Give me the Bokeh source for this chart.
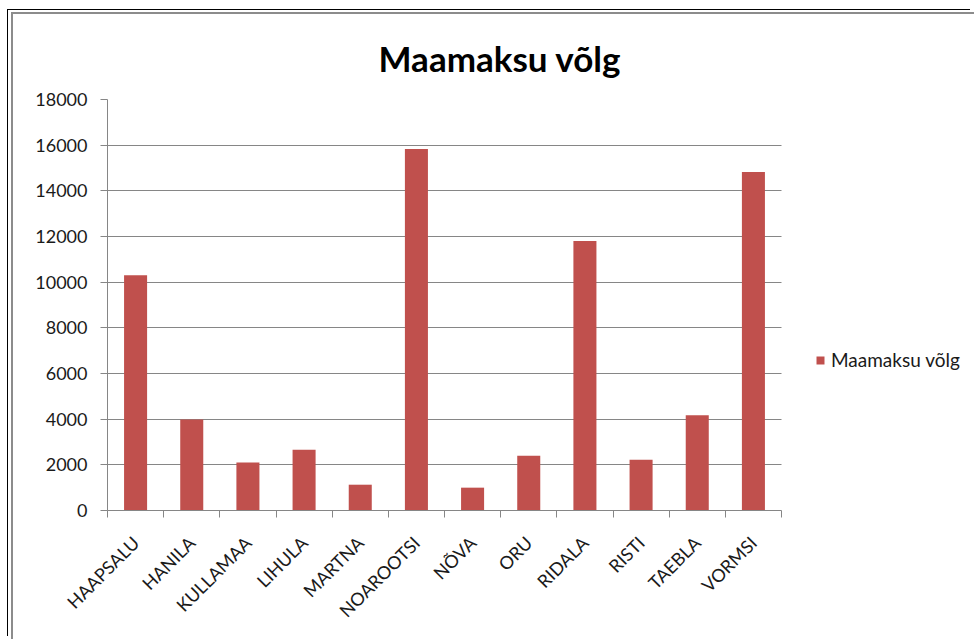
import math
from bokeh.plotting import figure
from bokeh.models import Range1d, FixedTicker, Legend, LegendItem, ColumnDataSource
from bokeh.embed import file_html
from bokeh.resources import INLINE

# ---- data ----
categories = ["HAAPSALU", "HANILA", "KULLAMAA", "LIHULA", "MARTNA", "NOAROOTSI",
              "NÕVA", "ORU", "RIDALA", "RISTI", "TAEBLA", "VORMSI"]
values = [10300, 3990, 2100, 2660, 1130, 15830, 1000, 2400, 11800, 2220, 4170, 14830]
y_ticks = [0, 2000, 4000, 6000, 8000, 10000, 12000, 14000, 16000, 18000]
series_name = "Maamaksu võlg"
title_text = "Maamaksu võlg"

n = len(categories)
positions = list(range(n))
boundaries = [i - 0.5 for i in range(n + 1)]
source = ColumnDataSource(dict(x=positions, top=values, cat=categories))

FONT = "Lato"
GRID = "#868686"
TXT = "#1a1a1a"

# layout (pixels)
W, H = 963, 627
LEFT, TOP, BOTTOM = 94, 85, 131
BAR_AREA = 674                     # width of the category area in px
frame_w = W - LEFT
x_end = -0.5 + n * frame_w / BAR_AREA   # frame extends under the legend

p = figure(width=W, height=H, output_backend="svg", toolbar_location=None,
           x_range=Range1d(-0.5, x_end), y_range=Range1d(0, y_ticks[-1]),
           min_border_left=LEFT, min_border_right=0, min_border_top=TOP,
           min_border_bottom=BOTTOM, tools="")
p.styles = {"margin-left": "11px", "margin-top": "12px",
            "border-left": "2px solid #8c8c8c", "border-top": "2px solid #8c8c8c",
            "box-shadow": "-3px -2px 0 0 #ffffff, -4px -3px 0 0 #000000"}

p.title.text = title_text
p.title.text_font = FONT
p.title.text_font_style = "bold"
p.title.text_font_size = "35px"
p.title.text_color = "#000000"
p.title.align = "left"
p.title.offset = 271
p.title.standoff = 41

p.outline_line_color = None
p.background_fill_color = "white"
p.border_fill_color = "white"

r = p.vbar(x="x", top="top", width=0.41, source=source,
           fill_color="#C0504D", line_color=None)

# grid limited to the category area
p.xgrid.visible = False
yg = p.ygrid[0]
if "cross_bounds" in yg.properties():
    yg.grid_line_color = GRID
    yg.cross_bounds = (-0.5, n - 0.5)
else:
    yg.visible = False
    p.segment(x0=[-0.5] * len(y_ticks), x1=[n - 0.5] * len(y_ticks),
              y0=y_ticks, y1=y_ticks, line_color=GRID, line_width=1, level="underlay")

# y axis
ya = p.yaxis[0]
ya.ticker = FixedTicker(ticks=y_ticks)
ya.axis_line_color = GRID
ya.major_tick_line_color = GRID
ya.major_tick_out = 7
ya.major_tick_in = 0
ya.minor_tick_line_color = None
ya.major_label_standoff = 13
ya.major_label_text_font = FONT
ya.major_label_text_font_size = "18px"
ya.major_label_text_color = TXT

# x axis
xa = p.xaxis[0]
xa.bounds = (-0.5, n - 0.5)
xa.ticker = FixedTicker(ticks=positions, minor_ticks=boundaries)
xa.axis_line_color = GRID
xa.major_tick_out = 0
xa.major_tick_in = 0
xa.major_tick_line_color = None
xa.minor_tick_line_color = GRID
xa.minor_tick_out = 7
xa.minor_tick_in = 0
xa.major_label_overrides = {i: c for i, c in zip(positions, categories)}
xa.major_label_orientation = math.pi / 4
xa.major_label_standoff = 22
xa.major_label_text_font = FONT
xa.major_label_text_font_size = "18px"
xa.major_label_text_color = TXT

legend = Legend(items=[LegendItem(label=series_name, renderers=[r])],
                location=(708, 139), border_line_color=None, background_fill_alpha=0,
                padding=0, margin=0, glyph_width=10, glyph_height=10, label_standoff=6,
                label_text_font=FONT, label_text_font_size="19px", label_text_color=TXT,
                spacing=0)
p.add_layout(legend)

open("out.html", "w").write(file_html(p, INLINE))
